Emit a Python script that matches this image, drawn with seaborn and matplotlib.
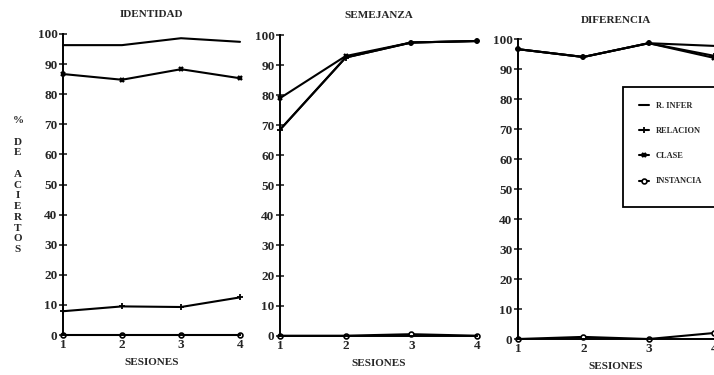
import matplotlib
matplotlib.use("Agg")
import matplotlib.pyplot as plt
import seaborn as sns
from matplotlib.patches import Rectangle

sns.set_style('white')
plt.rcParams['font.family'] = ['Liberation Serif', 'DejaVu Serif']
plt.rcParams['font.weight'] = 'bold'

sesiones = [1, 2, 3, 4]
series = ["R. INFER", "RELACION", "CLASE", "INSTANCIA"]
titles = ["IDENTIDAD", "SEMEJANZA", "DIFERENCIA"]

# % de aciertos por panel y serie
identidad = {
    "R. INFER": [96.3, 96.3, 98.6, 97.4],
    "RELACION": [7.9, 9.5, 9.3, 12.5],
    "CLASE": [86.7, 84.8, 88.3, 85.3],
    "INSTANCIA": [0, 0, 0, 0],
}
semejanza = {
    "R. INFER": [68.5, 92.5, 97.5, 98.0],
    "RELACION": [68.5, 92.5, 97.5, 98.0],
    "CLASE": [79.0, 93.0, 97.5, 98.0],
    "INSTANCIA": [0, 0, 0.5, 0],
}
diferencia = {
    "R. INFER": [96.7, 94.1, 98.7, 97.8],
    "RELACION": [96.7, 94.1, 98.7, 94.5],
    "CLASE": [96.7, 94.1, 98.7, 93.8],
    "INSTANCIA": [0, 0.7, 0, 2.0],
}
panels = [identidad, semejanza, diferencia]

styles = {
    "R. INFER": dict(marker=None),
    "RELACION": dict(marker='+', markersize=4.5, markeredgewidth=1.3,
                     markeredgecolor='black'),
    "CLASE": dict(marker='x', markersize=3.2, markeredgewidth=1.7,
                  markeredgecolor='black'),
    "INSTANCIA": dict(marker='o', markersize=3.5, markerfacecolor='white',
                      markeredgecolor='black', markeredgewidth=1.2),
}

W, H = 714, 375
fig = plt.figure(figsize=(W / 100, H / 100), dpi=100)
# axes boxes in pixels: left, right, y0 pixel, y100 pixel
boxes = [(63, 240, 335, 34), (280, 477, 335.7, 35), (518, 714, 339, 39.3)]

for i, (data, title, (l, r, y0, y100)) in enumerate(zip(panels, titles, boxes)):
    ax = fig.add_axes([l / W, (H - y0) / H, (r - l) / W, (y0 - y100) / H])
    for s in series:
        sns.lineplot(x=sesiones, y=data[s], ax=ax, color='black', linewidth=1.5,
                     label=s, legend=False, clip_on=False, **styles[s])
    ax.set_xlim(1, 4)
    ax.set_ylim(0, 100)
    ax.set_yticks(range(0, 101, 10))
    ax.set_xticks(sesiones)
    for side in ['top', 'right']:
        ax.spines[side].set_visible(False)
    for side in ['left', 'bottom']:
        ax.spines[side].set_color('black')
        ax.spines[side].set_linewidth(1.4)
    ax.tick_params(axis='y', direction='inout', length=6, width=1.2, labelsize=9.5, pad=1, left=True)
    ax.tick_params(axis='x', length=0, labelsize=9.5, pad=3)
    for lab in ax.get_xticklabels() + ax.get_yticklabels():
        lab.set_fontweight('bold')
    ax.set_title(title, fontsize=8, fontweight='bold', pad=12)
    ax.set_xlabel("SESIONES", fontsize=8, fontweight='bold', labelpad=5)
    ax.set_ylabel("")
    ax.patch.set_alpha(0)

    if i == 2:
        ax.add_patch(Rectangle((0.538, 0.44), 0.6, 0.40, transform=ax.transAxes,
                               facecolor='white', edgecolor='black', linewidth=1.3,
                               clip_on=False, zorder=5))
        handles, labels = ax.get_legend_handles_labels()
        leg = ax.legend(handles, labels, loc='upper left', bbox_to_anchor=(0.615, 0.79),
                        frameon=False, fontsize=6, labelspacing=2.05, handlelength=1.2,
                        handletextpad=0.9, borderpad=0, borderaxespad=0)
        leg.set_zorder(6)
        for t in leg.get_texts():
            t.set_fontweight('bold')

fig.text(18 / W, 1 - 185 / H, "%\n\nD\nE\n\nA\nC\nI\nE\nR\nT\nO\nS", ha='center', va='center',
         fontsize=8, fontweight='bold', linespacing=1.25)

plt.savefig("out.png", dpi=100)
